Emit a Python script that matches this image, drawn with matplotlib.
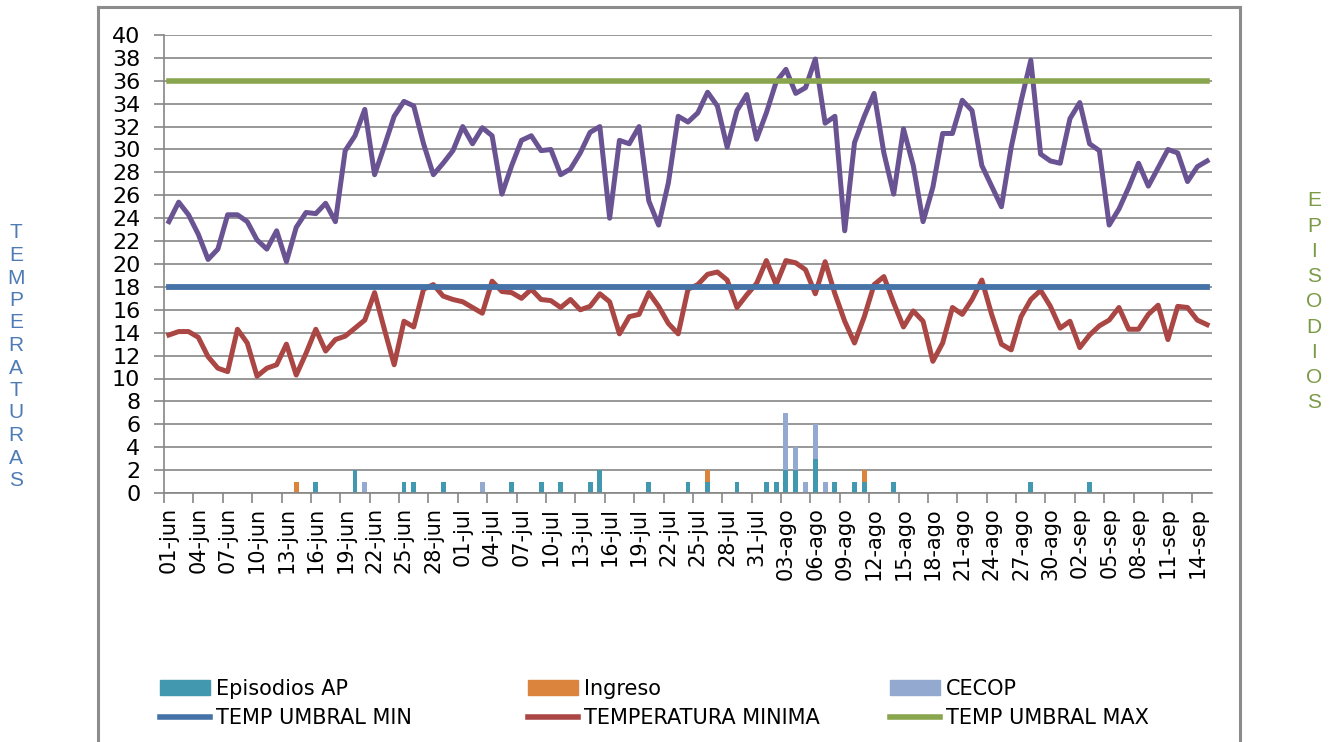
import numpy as np
import matplotlib.pyplot as plt
from matplotlib.lines import Line2D
from matplotlib.patches import Patch

# temperaturas diarias 01-jun .. 15-sep
t_max = [23.7, 25.4, 24.3, 22.6, 20.4, 21.3, 24.3, 24.3, 23.7, 22.1,
         21.3, 22.9, 20.2, 23.2, 24.5, 24.4, 25.3, 23.7, 29.9, 31.2,
         33.5, 27.8, 30.3, 32.9, 34.2, 33.8, 30.5, 27.8, 28.8, 29.9,
         32.0, 30.5, 31.9, 31.2, 26.1, 28.6, 30.8, 31.2, 29.9, 30.0,
         27.8, 28.3, 29.7, 31.5, 32.0, 24.0, 30.8, 30.5, 32.0, 25.5,
         23.4, 27.1, 32.9, 32.4, 33.2, 35.0, 33.8, 30.2, 33.4, 34.8,
         30.9, 33.2, 35.9, 37.0, 34.9, 35.4, 37.9, 32.3, 32.9, 22.9,
         30.6, 32.9, 34.9, 29.7, 26.1, 31.8, 28.6, 23.7, 26.7, 31.4,
         31.4, 34.3, 33.4, 28.6, 26.8, 25.0, 30.2, 34.2, 37.8, 29.6,
         29.0, 28.8, 32.7, 34.1, 30.5, 29.9, 23.4, 24.8, 26.7, 28.8,
         26.8, 28.4, 30.0, 29.7, 27.2, 28.5, 29.0]
t_min = [13.8, 14.1, 14.1, 13.6, 11.9, 10.9, 10.6, 14.3, 13.1, 10.2,
         10.9, 11.2, 13.0, 10.3, 12.2, 14.3, 12.4, 13.4, 13.7, 14.4,
         15.1, 17.5, 14.3, 11.2, 15.0, 14.5, 17.8, 18.2, 17.2, 16.9,
         16.7, 16.2, 15.7, 18.5, 17.6, 17.5, 17.0, 17.8, 16.9, 16.8,
         16.2, 16.9, 16.0, 16.3, 17.4, 16.7, 13.9, 15.4, 15.6, 17.5,
         16.3, 14.8, 13.9, 17.8, 18.2, 19.1, 19.3, 18.6, 16.2, 17.3,
         18.3, 20.3, 18.2, 20.3, 20.1, 19.5, 17.4, 20.2, 17.4, 15.0,
         13.1, 15.4, 18.2, 18.9, 16.6, 14.5, 15.9, 15.0, 11.5, 13.1,
         16.2, 15.6, 16.9, 18.6, 15.6, 13.0, 12.5, 15.4, 16.9, 17.7,
         16.3, 14.4, 15.0, 12.7, 13.8, 14.6, 15.1, 16.2, 14.3, 14.3,
         15.6, 16.4, 13.4, 16.3, 16.2, 15.1, 14.7]
umbral_min = 18
umbral_max = 36

# episodios (indice de dia -> numero)
ap_dias = [15, 19, 24, 25, 28, 35, 38, 40, 43, 44, 49, 53, 55, 58, 61,
           62, 63, 64, 66, 68, 70, 71, 74, 88, 94]
ap_vals = [1, 2, 1, 1, 1, 1, 1, 1, 1, 2, 1, 1, 1, 1, 1,
           1, 2, 2, 3, 1, 1, 1, 1, 1, 1]
ingreso_dias = [13, 55, 71]
ingreso_vals = [1, 1, 1]
cecop_dias = [20, 32, 63, 64, 65, 66, 67]
cecop_vals = [1, 1, 5, 2, 1, 3, 1]

etiquetas = ['01-jun', '04-jun', '07-jun', '10-jun', '13-jun', '16-jun',
             '19-jun', '22-jun', '25-jun', '28-jun', '01-jul', '04-jul',
             '07-jul', '10-jul', '13-jul', '16-jul', '19-jul', '22-jul',
             '25-jul', '28-jul', '31-jul', '03-ago', '06-ago', '09-ago',
             '12-ago', '15-ago', '18-ago', '21-ago', '24-ago', '27-ago',
             '30-ago', '02-sep', '05-sep', '08-sep', '11-sep', '14-sep']

n = len(t_max)
x = np.arange(n)
ap = np.zeros(n)
ap[ap_dias] = ap_vals
ingreso = np.zeros(n)
ingreso[ingreso_dias] = ingreso_vals
cecop = np.zeros(n)
cecop[cecop_dias] = cecop_vals

c_ap = '#4198AF'
c_ing = '#DB843D'
c_cecop = '#93A9CF'
c_umin = '#4572A7'
c_tmin = '#AA4643'
c_umax = '#89A54E'
c_tmax = '#6A5392'
gris = '#868686'

fig = plt.figure(figsize=(13.35, 7.42), dpi=100)
ax = fig.add_axes([164 / 1335, 1 - 493 / 742, (1212 - 164) / 1335, (493 - 35) / 742])

ax.bar(x, ap, width=0.5, color=c_ap, zorder=2)
ax.bar(x, ingreso, width=0.5, bottom=ap, color=c_ing, zorder=2)
ax.bar(x, cecop, width=0.5, bottom=ap + ingreso, color=c_cecop, zorder=2)

ax.plot(x, t_max, color=c_tmax, lw=3.6, zorder=3)
ax.plot(x, t_min, color=c_tmin, lw=3.6, zorder=3)
ax.plot(x, [umbral_min] * n, color=c_umin, lw=4.2, zorder=3)
ax.plot(x, [umbral_max] * n, color=c_umax, lw=4.0, zorder=3)

ax.set_xlim(-0.5, n - 0.5)
ax.set_ylim(0, 40)
ax.set_yticks(np.arange(0, 41, 2))
ax.grid(axis='y', color=gris, lw=1.2, zorder=0)
ax.tick_params(axis='y', length=7, color=gris, width=1.2, labelsize=16, pad=10)

ax.set_xticks(np.arange(0, n, 3))
ax.set_xticklabels(etiquetas, rotation=90, fontsize=15)
ax.set_xticks(np.arange(-0.5, n, 3), minor=True)
ax.tick_params(axis='x', which='major', length=0, pad=10)
ax.tick_params(axis='x', which='minor', length=7, color=gris, width=1.2)

for s in ['top', 'right']:
    ax.spines[s].set_visible(False)
for s in ['left', 'bottom']:
    ax.spines[s].set_color(gris)
    ax.spines[s].set_linewidth(1.2)

# leyendas (tres columnas)
fs = 15
kw = dict(frameon=False, fontsize=fs, loc='upper left', borderpad=0,
          borderaxespad=0, handlelength=2.4, handletextpad=0.3,
          labelspacing=0.45)
fig.legend([Patch(color=c_ap), Line2D([], [], color=c_umin, lw=4)],
           ['Episodios AP', 'TEMP UMBRAL MIN'],
           bbox_to_anchor=(160 / 1335, 1 - 679 / 742), **kw)
fig.legend([Patch(color=c_ing), Line2D([], [], color=c_tmin, lw=4)],
           ['Ingreso', 'TEMPERATURA MINIMA'],
           bbox_to_anchor=(528 / 1335, 1 - 679 / 742), **kw)
fig.legend([Patch(color=c_cecop), Line2D([], [], color=c_umax, lw=4)],
           ['CECOP', 'TEMP UMBRAL MAX'],
           bbox_to_anchor=(890 / 1335, 1 - 679 / 742), **kw)

# textos laterales
for i, letra in enumerate('TEMPERATURAS'):
    fig.text(16 / 1335, 1 - (233 + i * 22.5) / 742, letra, color='#4F7BB5',
             fontsize=15, ha='center', va='center', family='Liberation Sans')
for i, letra in enumerate('EPISODIOS'):
    fig.text(1314 / 1335, 1 - (201 + i * 25.2) / 742, letra, color='#7B9A45',
             fontsize=15, ha='center', va='center', family='Liberation Sans')

# borde del area del grafico
for xs, ys in [([98, 98], [7, 760]), ([98, 1240], [7, 7]), ([1240, 1240], [7, 760])]:
    fig.add_artist(Line2D([v / 1335 for v in xs], [1 - v / 742 for v in ys],
                          color='#8C8C8C', lw=2.2))

fig.savefig('out.png', dpi=100)
